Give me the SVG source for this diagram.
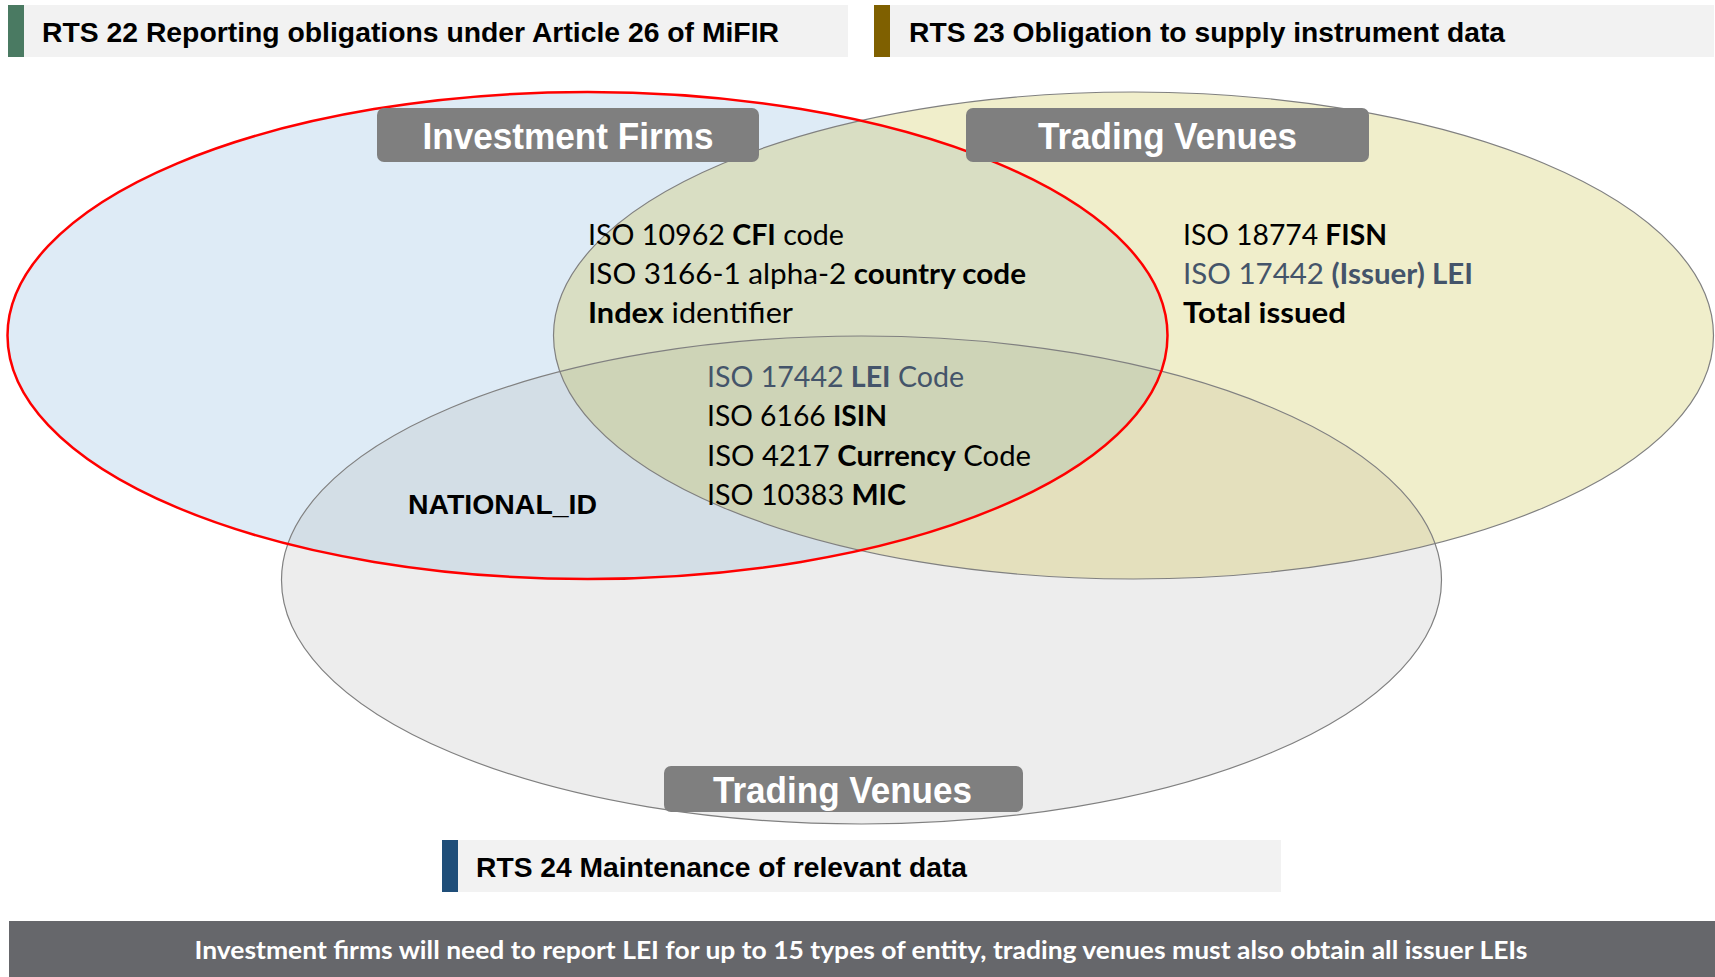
<svg xmlns="http://www.w3.org/2000/svg" width="1715" height="977" viewBox="0 0 1715 977">
<style>
.hdr{font-family:"Liberation Sans",Arial,sans-serif;font-weight:bold;font-size:28px;fill:#000}
.lbl{font-family:"Liberation Sans",Arial,sans-serif;font-weight:bold;font-size:36px;fill:#fff}
.lbox{fill:#7F7F7F}
.t{font-family:Lato,"Open Sans",sans-serif;font-size:29px;fill:#000}
.b{font-weight:bold}
.s{fill:#44546A}
.ol{fill:none;stroke:#808080;stroke-width:1.2}
</style>
<defs>
<clipPath id="cBlue"><ellipse cx="587.5" cy="335.5" rx="580" ry="243.5"/></clipPath>
<clipPath id="cYel"><ellipse cx="1133.5" cy="335.5" rx="580" ry="243.5"/></clipPath>
</defs>
<rect width="1715" height="977" fill="#fff"/>

<g id="venn-fills">
<ellipse cx="587.5" cy="335.5" rx="580" ry="243.5" fill="#DEEBF6"/>
<ellipse cx="1133.5" cy="335.5" rx="580" ry="243.5" fill="#F0EECB"/>
<ellipse cx="861.5" cy="580" rx="580" ry="244" fill="#EDEDED"/>
<ellipse cx="1133.5" cy="335.5" rx="580" ry="243.5" fill="#D9DEC3" clip-path="url(#cBlue)"/>
<ellipse cx="861.5" cy="580" rx="580" ry="244" fill="#D3DEE6" clip-path="url(#cBlue)"/>
<ellipse cx="861.5" cy="580" rx="580" ry="244" fill="#E4E0BD" clip-path="url(#cYel)"/>
<g clip-path="url(#cBlue)"><ellipse cx="861.5" cy="580" rx="580" ry="244" fill="#CED4B7" clip-path="url(#cYel)"/></g>
</g>
<g id="venn-outlines">
<ellipse class="ol" cx="1133.5" cy="335.5" rx="580" ry="243.5"/>
<ellipse class="ol" cx="861.5" cy="580" rx="580" ry="244"/>
<ellipse cx="587.5" cy="335.5" rx="580" ry="243.5" fill="none" stroke="#FF0000" stroke-width="2.5"/>
</g>

<g id="rts22">
<rect x="8" y="5" width="840" height="52" fill="#F2F2F2"/>
<rect x="8" y="5" width="16" height="52" fill="#4A7A62"/>
<text class="hdr" x="42" y="42" textLength="737" lengthAdjust="spacingAndGlyphs">RTS 22 Reporting obligations under Article 26 of MiFIR</text>
</g>
<g id="rts23">
<rect x="874" y="5" width="840" height="52" fill="#F2F2F2"/>
<rect x="874" y="5" width="16" height="52" fill="#7F6000"/>
<text class="hdr" x="909" y="42" textLength="596" lengthAdjust="spacingAndGlyphs">RTS 23 Obligation to supply instrument data</text>
</g>
<g id="rts24">
<rect x="442" y="840" width="839" height="52" fill="#F2F2F2"/>
<rect x="442" y="840" width="16" height="52" fill="#1F4E79"/>
<text class="hdr" x="476" y="877" textLength="491" lengthAdjust="spacingAndGlyphs">RTS 24 Maintenance of relevant data</text>
</g>

<g id="label-investment-firms">
<rect class="lbox" x="377" y="108" width="382" height="54" rx="7"/>
<text class="lbl" x="568" y="149" text-anchor="middle" textLength="291" lengthAdjust="spacingAndGlyphs">Investment Firms</text>
</g>
<g id="label-trading-venues-top">
<rect class="lbox" x="966" y="108" width="403" height="54" rx="7"/>
<text class="lbl" x="1167.5" y="149" text-anchor="middle" textLength="259" lengthAdjust="spacingAndGlyphs">Trading Venues</text>
</g>
<g id="label-trading-venues-bottom">
<rect class="lbox" x="664" y="766" width="359" height="46" rx="7"/>
<text class="lbl" x="842.5" y="803" text-anchor="middle" textLength="259" lengthAdjust="spacingAndGlyphs">Trading Venues</text>
</g>

<g id="text-if-tv">
<text class="t" x="588" y="245" textLength="256" lengthAdjust="spacingAndGlyphs">ISO 10962 <tspan class="b">CFI</tspan> code</text>
<text class="t" x="588" y="284" textLength="438" lengthAdjust="spacingAndGlyphs">ISO 3166-1 alpha-2 <tspan class="b">country code</tspan></text>
<text class="t" x="588" y="323" textLength="205" lengthAdjust="spacingAndGlyphs"><tspan class="b">Index</tspan> identifier</text>
</g>
<g id="text-all">
<text class="t s" x="707" y="387" textLength="257" lengthAdjust="spacingAndGlyphs">ISO 17442 <tspan class="b">LEI</tspan> Code</text>
<text class="t" x="707" y="426" textLength="180" lengthAdjust="spacingAndGlyphs">ISO 6166 <tspan class="b">ISIN</tspan></text>
<text class="t" x="707" y="466" textLength="324" lengthAdjust="spacingAndGlyphs">ISO 4217 <tspan class="b">Currency</tspan> Code</text>
<text class="t" x="707" y="505" textLength="199" lengthAdjust="spacingAndGlyphs">ISO 10383 <tspan class="b">MIC</tspan></text>
</g>
<g id="text-national">
<text x="408" y="514" font-family="Liberation Sans,Arial,sans-serif" font-weight="bold" font-size="27" textLength="189" lengthAdjust="spacingAndGlyphs">NATIONAL_ID</text>
</g>
<g id="text-tv">
<text class="t" x="1183" y="245" textLength="204" lengthAdjust="spacingAndGlyphs">ISO 18774 <tspan class="b">FISN</tspan></text>
<text class="t s" x="1183" y="284" textLength="290" lengthAdjust="spacingAndGlyphs">ISO 17442 <tspan class="b">(Issuer) LEI</tspan></text>
<text class="t b" x="1183" y="323" textLength="163" lengthAdjust="spacingAndGlyphs">Total issued</text>
</g>

<g id="footer">
<rect x="9" y="921" width="1706" height="56" fill="#66676B"/>
<text x="861" y="959" text-anchor="middle" font-family="Lato,'Open Sans',sans-serif" font-weight="bold" font-size="24" fill="#fff" textLength="1333" lengthAdjust="spacingAndGlyphs">Investment firms will need to report LEI for up to 15 types of entity, trading venues must also obtain all issuer LEIs</text>
</g>
</svg>
